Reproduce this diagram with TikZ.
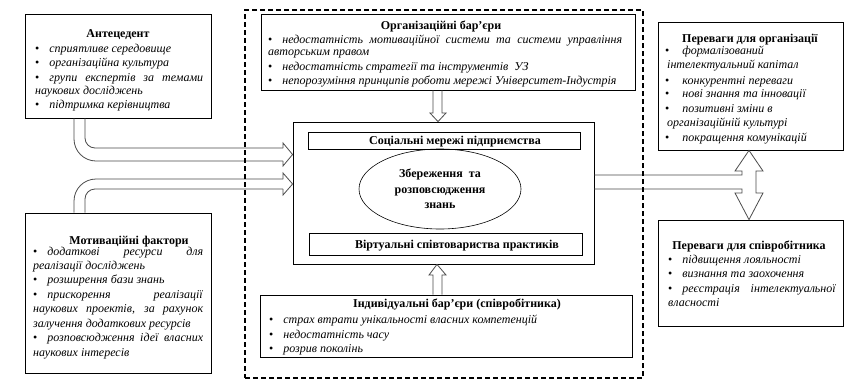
\documentclass[tikz,border=0pt]{standalone}
\usepackage{fontspec}
\setmainfont{Liberation Serif}
\usetikzlibrary{shapes.geometric}
\newcommand\bulg[1]{\textbullet\hspace{#1}}
\newcommand\bul{\bulg{10pt}}
\begin{document}
\begin{tikzpicture}[x=1pt,y=-1pt,
  box/.style={draw=black,line width=0.8pt,inner sep=0pt,fill=white},
  txt/.style={inner sep=0pt,anchor=base west,font=\fontsize{12}{14}\selectfont},
  ttl/.style={inner sep=0pt,anchor=base,font=\fontsize{12}{14}\selectfont\bfseries},
  arr/.style={draw=black!70,line width=0.8pt},
  dashbox/.style={draw=black,line width=1.4pt,dash pattern=on 5pt off 3pt,inner sep=0pt}]
\useasboundingbox (0,0) rectangle (846,383);
\fill[white] (0,0) rectangle (846,383);

% boxes
\node[box,minimum width=186pt,minimum height=104pt] (ant) at (118,66) {};
\node[box,minimum width=186pt,minimum height=160pt] (mot) at (118,293) {};
\node[box,minimum width=374pt,minimum height=76pt] (org) at (448,52) {};
\node[box,minimum width=301pt,minimum height=142pt] (cen) at (443.5,193) {};
\node[box,minimum width=272pt,minimum height=17pt] (soc) at (444,140.5) {};
\node[box,minimum width=273pt,minimum height=22pt] (virt) at (445.5,244) {};
\node[box,minimum width=372pt,minimum height=62pt] (ind) at (446,326) {};
\node[box,minimum width=185pt,minimum height=128pt] (pord) at (750.5,86) {};
\node[box,minimum width=185pt,minimum height=106pt] (psp) at (750.5,273) {};
\node[draw=black,line width=0.6pt,ellipse,minimum width=162pt,minimum height=80pt,inner sep=0pt,align=center,
  font=\fontsize{12}{15.5}\selectfont\bfseries] (ell) at (440,189) {Збереження\ \ та\\розповсюдження\\знань};

% arrows
\draw[arr,rounded corners=10pt] (85,0 |- ant.south) -- (85,148) -- (283,148);
\draw[arr,rounded corners=22pt] (74,0 |- ant.south) -- (74,161) -- (283,161);
\draw[arr] (283,148) -- (283,143) -- (cen.west |- 0,154.5) -- (283,166) -- (283,161);
\draw[arr,rounded corners=22pt] (74,0 |- mot.north) -- (74,179) -- (283,179);
\draw[arr,rounded corners=10pt] (85,0 |- mot.north) -- (85,189) -- (283,189);
\draw[arr] (283,179) -- (283,173) -- (cen.west |- 0,184) -- (283,195) -- (283,189);
\draw[arr] (433,0 |- org.south) -- (433,113) -- (430,113) -- (438,0 |- cen.north) -- (446,113) -- (442,113) -- (442,0 |- org.south);
\draw[arr] (433,0 |- ind.north) -- (433,275) -- (429,275) -- (437,0 |- cen.south) -- (446,275) -- (442,275) -- (442,0 |- ind.north);
\draw[arr] (cen.east |- 0,175) -- (742,175) -- (742,171) -- (735,171) -- (749,0 |- pord.south) -- (763,171) -- (756,171)
  -- (756,193) -- (763,193) -- (749,0 |- psp.north) -- (735,193) -- (742,193) -- (742,189) -- (cen.east |- 0,189);

% dashed frame
\node[dashbox,minimum width=398pt,minimum height=368pt] (frame) at (444,194) {};

% Antecedent
\node[ttl] (antT) at (118,37) {Антецедент};
\node[txt] (a1) at (35,52) {\bul\textit{сприятливе середовище}};
\node[txt] (a2) at (35,66) {\bul\textit{організаційна культура}};
\node[txt] (a3) at (35,81) {\makebox[168pt][s]{\bul\textit{групи експертів за темами}}};
\node[txt] (a4) at (35,94) {\textit{наукових досліджень}};
\node[txt] (a5) at (35,108) {\bul\textit{підтримка керівництва}};

% Motivation
\node[ttl] (motT) at (129,244) {Мотиваційні фактори};
\node[txt] (m1) at (33,255) {\makebox[170pt][s]{\bul\textit{додаткові ресурси для}}};
\node[txt] (m2) at (33,269) {\textit{реалізації досліджень}};
\node[txt] (m3) at (33,283) {\bul\textit{розширення бази знань}};
\node[txt] (m4) at (33,298) {\makebox[170pt][s]{\bul\textit{прискорення реалізації}}};
\node[txt] (m5) at (33,312) {\makebox[170pt][s]{\textit{наукових проектів, за рахунок}}};
\node[txt] (m6) at (33,327) {\textit{залучення додаткових ресурсів}};
\node[txt] (m7) at (33,341) {\makebox[170pt][s]{\bul\textit{розповсюдження ідеї власних}}};
\node[txt] (m8) at (33,356) {\textit{наукових інтересів}};

% Organisational barriers
\node[ttl] (orgT) at (441,29) {Організаційні бар’єри};
\node[txt] (o1) at (268,43) {\makebox[354pt][s]{\bul\textit{недостатність мотиваційної системи та системи управління}}};
\node[txt] (o2) at (268,55) {\textit{авторським правом}};
\node[txt] (o3) at (268,70) {\bul\textit{недостатність стратегії та інструментів\ \ УЗ}};
\node[txt] (o4) at (268,84) {\bul\textit{непорозуміння принципів роботи мережі Університет-Індустрія}};

% Centre
\node[ttl] (socT) at (455,144) {Соціальні мережі підприємства};
\node[ttl] (virtT) at (457,248) {Віртуальні співтовариства практиків};

% Individual barriers
\node[ttl] (indT) at (457,307) {Індивідуальні бар’єри (співробітника)};
\node[txt] (i1) at (269,323) {\bul\textit{страх втрати унікальності власних компетенцій}};
\node[txt] (i2) at (269,338) {\bul\textit{недостатність часу}};
\node[txt] (i3) at (269,352) {\bul\textit{розрив поколінь}};

% Benefits for organisation
\node[ttl] (pordT) at (750,42) {Переваги для організації};
\node[txt] (p1) at (665,54) {\bulg{13pt}\textit{формалізований}};
\node[txt] (p2) at (667,68) {\textit{інтелектуальний капітал}};
\node[txt] (p3) at (665,84) {\bulg{13pt}\textit{конкурентні переваги}};
\node[txt] (p4) at (665,97) {\bulg{13pt}\textit{нові знання та інновації}};
\node[txt] (p5) at (665,112) {\bulg{13pt}\textit{позитивні зміни в}};
\node[txt] (p6) at (667,126) {\textit{організаційній культурі}};
\node[txt] (p7) at (665,141) {\bulg{13pt}\textit{покращення комунікацій}};

% Benefits for employee
\node[ttl] (pspT) at (749,249) {Переваги для співробітника};
\node[txt] (s1) at (668,263) {\bul\textit{підвищення лояльності}};
\node[txt] (s2) at (668,277) {\bul\textit{визнання та заохочення}};
\node[txt] (s3) at (668,292) {\makebox[168pt][s]{\bul\textit{реєстрація інтелектуальної}}};
\node[txt] (s4) at (668,306) {\textit{власності}};
\end{tikzpicture}
\end{document}
